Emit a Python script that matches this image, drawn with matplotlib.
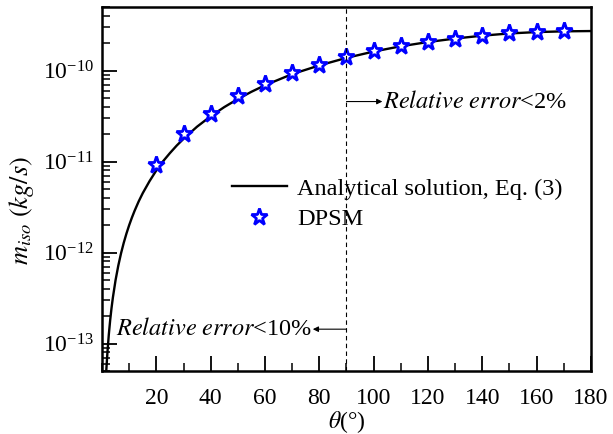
import matplotlib
matplotlib.use("Agg")
from matplotlib import pyplot as plt
from matplotlib.ticker import MultipleLocator, LogLocator, NullFormatter

plt.rcParams["font.family"] = ["Liberation Serif", "DejaVu Serif"]
plt.rcParams["mathtext.fontset"] = "stix"

# analytical curve, contact angle (deg) vs evaporation rate (kg/s)
theta_ana = [1.6, 2, 2.5, 3, 3.5, 4, 5, 6, 7, 8, 9, 10, 11, 12, 13.5, 15, 17.5, 20,
             22.5, 25, 27.5, 30, 35, 40, 45, 50, 55, 60, 70, 80, 90, 100, 110, 120,
             130, 140, 150, 160, 170, 180]
m_ana = [5.2e-14, 8.0e-14, 1.25e-13, 1.8e-13, 2.45e-13, 3.2e-13, 5.0e-13, 7.2e-13,
         9.8e-13, 1.28e-12, 1.62e-12, 2.0e-12, 2.42e-12, 2.88e-12, 3.65e-12, 4.5e-12,
         6.1e-12, 8.0e-12, 1.01e-11, 1.24e-11, 1.5e-11, 1.78e-11, 2.42e-11, 3.15e-11,
         3.97e-11, 4.87e-11, 5.85e-11, 6.9e-11, 9.15e-11, 1.14e-10, 1.38e-10, 1.62e-10,
         1.85e-10, 2.06e-10, 2.25e-10, 2.42e-10, 2.56e-10, 2.65e-10, 2.70e-10, 2.72e-10]

# DPSM results
theta_dpsm = [20, 30, 40, 50, 60, 70, 80, 90, 100, 110, 120, 130, 140, 150, 160, 170]
m_dpsm = [9.1e-12, 2.02e-11, 3.37e-11, 5.22e-11, 7.2e-11, 9.44e-11, 1.16e-10, 1.40e-10,
          1.63e-10, 1.85e-10, 2.07e-10, 2.23e-10, 2.42e-10, 2.59e-10, 2.68e-10, 2.73e-10]

y_ticks = [1e-13, 1e-12, 1e-11, 1e-10]
x_ticks = [20, 40, 60, 80, 100, 120, 140, 160, 180]

fig = plt.figure(figsize=(6.13, 4.34), dpi=100)
ax = fig.add_axes([0.1664, 0.1452, 0.7977, 0.8387])

ax.plot(theta_ana, m_ana, color="black", lw=1.7, label="Analytical solution, Eq. (3)")
ax.plot(theta_dpsm, m_dpsm, ls="none", marker="*", ms=12.5, mfc="white", mec="blue",
        mew=2.0, label="DPSM")

ax.axvline(90, color="black", lw=0.8, ls=(0, (4, 3)))

arrow = dict(arrowstyle="-|>", color="black", lw=0.8, mutation_scale=8, shrinkA=0, shrinkB=0)
ax.annotate("", xy=(103.2, 4.57e-11), xytext=(90, 4.57e-11), arrowprops=arrow)
ax.text(103.3, 4.57e-11, r"$\it{Relative\ error}$<2%", fontsize=17.5, va="center", ha="left")

ax.annotate("", xy=(77.6, 1.44e-13), xytext=(90, 1.44e-13), arrowprops=arrow)
ax.text(77.4, 1.44e-13, r"$\it{Relative\ error}$<10%", fontsize=17.5, va="center", ha="right")

ax.set_yscale("log")
ax.set_xlim(0, 180)
ax.set_ylim(5e-14, 5e-10)

ax.set_xticks(x_ticks)
ax.xaxis.set_minor_locator(MultipleLocator(10))
ax.set_yticks(y_ticks)
ax.yaxis.set_minor_locator(LogLocator(base=10, subs=range(2, 10), numticks=20))
ax.yaxis.set_minor_formatter(NullFormatter())

ax.tick_params(which="both", direction="in", top=False, right=False, labelsize=17)
ax.tick_params(which="major", length=11, width=1.3)
ax.tick_params(which="minor", length=6, width=1.1)
ax.tick_params(axis="x", pad=12)
ax.tick_params(axis="y", pad=6)
for s in ax.spines.values():
    s.set_linewidth(1.8)

ax.set_xlabel(r"$\theta$(°)", fontsize=17, labelpad=0)
ax.set_ylabel(r"$m_{iso}\ (kg/s)$", fontsize=19, labelpad=10)
ax.yaxis.set_label_coords(-0.135, 0.44)

ax.legend(loc="upper left", bbox_to_anchor=(0.245, 0.557), borderaxespad=0, frameon=False,
          fontsize=17.5, handlelength=2.3, handletextpad=0.4, labelspacing=0.35)

fig.savefig("out.png", dpi=100)
